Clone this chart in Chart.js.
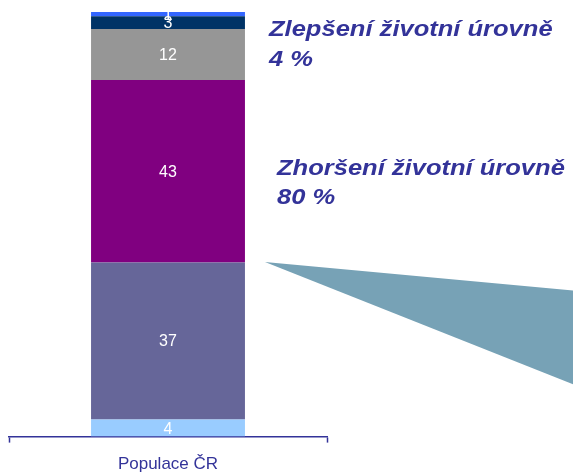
<!DOCTYPE html>
<html>
<head>
<meta charset="utf-8">
<script src="https://cdn.jsdelivr.net/npm/chart.js@4.4.0/dist/chart.umd.min.js"></script>
<style>
  html, body { margin: 0; padding: 0; background: #ffffff; }
  #wrap { width: 573px; height: 472px; }
</style>
</head>
<body>
<div id="wrap"><canvas id="chart" width="573" height="472"></canvas></div>
<script>
// data, bottom segment first
const categories = ['Populace ČR'];
const segmentValues = [4, 37, 43, 12, 3, 1];
const segmentColors = ['#99CCFF', '#666699', '#800080', '#969696', '#003366', '#3366FF'];

// annotation texts on the right
const improvedLabel = 'Zlepšení životní úrovně';
const worsenedLabel = 'Zhoršení životní úrovně';
const improvedShare = segmentValues[4] + segmentValues[5];
const worsenedShare = segmentValues[1] + segmentValues[2];

const textBlue = '#333399';

// white numbers in the middle of every segment
const segmentLabels = {
    id: 'segmentLabels',
    afterDatasetsDraw(chart) {
        const ctx = chart.ctx;
        ctx.save();
        ctx.fillStyle = '#ffffff';
        ctx.font = '16px "Liberation Sans", Arial, sans-serif';
        ctx.textAlign = 'center';
        ctx.textBaseline = 'middle';
        chart.data.datasets.forEach((ds, i) => {
            const bar = chart.getDatasetMeta(i).data[0];
            const mid = (bar.y + bar.base) / 2;
            ctx.fillText(String(ds.data[0]), bar.x, mid + 1);
        });
        ctx.restore();
    }
};

// wedge and side texts
const sideNotes = {
    id: 'sideNotes',
    afterDraw(chart) {
        const ctx = chart.ctx;
        const y = chart.scales.y;
        const bar = chart.getDatasetMeta(0).data[0];
        const tipX = bar.x + bar.width / 2 + 20;

        ctx.save();
        ctx.fillStyle = '#77A2B6';
        ctx.beginPath();
        ctx.moveTo(tipX, y.getPixelForValue(41.1));
        ctx.lineTo(chart.width, y.getPixelForValue(34.4));
        ctx.lineTo(chart.width, y.getPixelForValue(12.3));
        ctx.closePath();
        ctx.fill();

        ctx.fillStyle = textBlue;
        ctx.font = 'italic bold 22px "Liberation Sans", Arial, sans-serif';
        ctx.textAlign = 'left';
        ctx.textBaseline = 'alphabetic';
        const line = (txt, x, yy) => {
            ctx.save();
            ctx.translate(x, yy);
            ctx.scale(1.16, 1);
            ctx.fillText(txt, 0, 0);
            ctx.restore();
        };
        line(improvedLabel, 269, 36);
        line(improvedShare + ' %', 269, 66);
        line(worsenedLabel, 277, 175);
        line(worsenedShare + ' %', 277, 204);
        ctx.restore();
    }
};

new Chart(document.getElementById('chart'), {
    type: 'bar',
    data: {
        labels: categories,
        datasets: segmentValues.map((v, i) => ({
            data: [v],
            backgroundColor: segmentColors[i],
            borderWidth: 0,
            barPercentage: 0.484,
            categoryPercentage: 1
        }))
    },
    options: {
        responsive: false,
        animation: false,
        layout: { padding: { top: 12, left: 9, right: 246, bottom: -15 } },
        plugins: {
            legend: { display: false },
            tooltip: { enabled: false }
        },
        scales: {
            x: {
                stacked: true,
                offset: true,
                border: { display: true, color: textBlue, width: 1.5 },
                grid: {
                    display: true,
                    drawOnChartArea: false,
                    drawTicks: true,
                    tickLength: 6,
                    tickWidth: 1.5,
                    color: textBlue,
                    offset: true
                },
                ticks: {
                    color: textBlue,
                    padding: 12,
                    font: { family: '"Liberation Sans", Arial, sans-serif', size: 17 }
                }
            },
            y: {
                stacked: true,
                display: false,
                min: 0,
                max: 100
            }
        }
    },
    plugins: [segmentLabels, sideNotes]
});
</script>
</body>
</html>
